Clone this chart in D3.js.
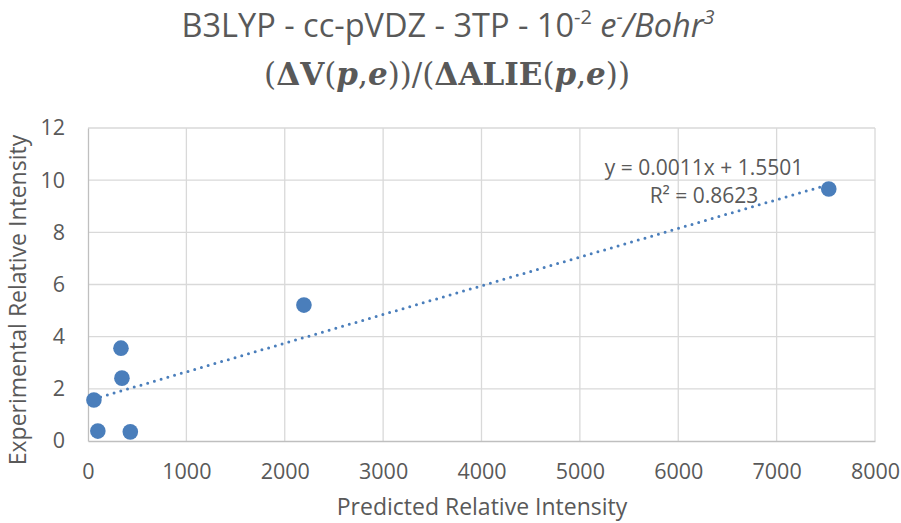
<!DOCTYPE html>
<html>
<head>
<meta charset="utf-8">
<script src="https://cdn.jsdelivr.net/npm/d3@7"></script>
<style>
  body { margin: 0; background: #fff; }
  svg { font-family: "Open Sans", sans-serif; }
</style>
</head>
<body>
<svg id="chart" width="901" height="523"></svg>
<script>
// data
const predicted = [60, 100, 335, 345, 430, 2195, 7530];
const experimental = [1.57, 0.38, 3.56, 2.41, 0.35, 5.21, 9.66];
const xTicks = [0, 1000, 2000, 3000, 4000, 5000, 6000, 7000, 8000];
const yTicks = [0, 2, 4, 6, 8, 10, 12];
const slope = 0.0011, intercept = 1.5501, r2 = "0.8623";

// plot area
let margin = { top: 128, right: 26, bottom: 82, left: 88 };
let width = 901 - margin.left - margin.right;
let height = 523 - margin.top - margin.bottom;

let x = d3.scaleLinear().domain([0, 8000]).range([0, width]);
let y = d3.scaleLinear().domain([0, 12]).range([height, 0]);

let svg = d3.select('#chart');
let g = svg.append('g').attr('transform', `translate(${margin.left}, ${margin.top})`);

const textCol = '#595959';
const blue = '#4a7ebb';

// grid
g.append('g')
  .selectAll('line')
  .data(xTicks.slice(1))
  .join('line')
  .attr('x1', d => x(d)).attr('x2', d => x(d))
  .attr('y1', 0).attr('y2', height)
  .attr('stroke', '#d9d9d9').attr('stroke-width', 1.3);
g.append('g')
  .selectAll('line')
  .data(yTicks.slice(1))
  .join('line')
  .attr('x1', 0).attr('x2', width)
  .attr('y1', d => y(d)).attr('y2', d => y(d))
  .attr('stroke', '#d9d9d9').attr('stroke-width', 1.3);

// axes
let xAxis = g.append('g')
  .attr('transform', `translate(0, ${height})`)
  .call(d3.axisBottom(x).tickValues(xTicks).tickFormat(d3.format('d')).tickSize(0).tickPadding(23));
let yAxis = g.append('g')
  .call(d3.axisLeft(y).tickValues(yTicks).tickFormat(d3.format('d')).tickSize(0).tickPadding(23));
[xAxis, yAxis].forEach(a => {
  a.select('.domain').attr('stroke', '#bfbfbf').attr('stroke-width', 1.3);
  a.selectAll('text').attr('fill', textCol).style('font-size', '21.5px').style('font-family', '"Open Sans", sans-serif');
});

// trendline
let xr = d3.extent(predicted);
g.append('line')
  .attr('x1', x(xr[0])).attr('y1', y(slope * xr[0] + intercept))
  .attr('x2', x(xr[1])).attr('y2', y(slope * xr[1] + intercept))
  .attr('stroke', blue).attr('stroke-width', 3)
  .attr('stroke-dasharray', '0 7').attr('stroke-linecap', 'round');

// points
g.selectAll('circle')
  .data(predicted.map((p, i) => [p, experimental[i]]))
  .join('circle')
  .attr('cx', d => x(d[0])).attr('cy', d => y(d[1]))
  .attr('r', 7.8).attr('fill', blue);

// trendline label
let eq = g.append('text').attr('text-anchor', 'middle').attr('fill', textCol).style('font-size', '21px');
eq.append('tspan').attr('x', 616).attr('y', 47).text(`y = ${slope.toFixed(4)}x + ${intercept.toFixed(4)}`);
eq.append('tspan').attr('x', 616).attr('y', 75).text(`R² = ${r2}`);

// axis titles
svg.append('text')
  .attr('x', 482).attr('y', 515).attr('text-anchor', 'middle')
  .attr('fill', textCol).style('font-size', '23px')
  .text('Predicted Relative Intensity');
svg.append('text')
  .attr('transform', 'translate(26, 300) rotate(-90)').attr('text-anchor', 'middle')
  .attr('fill', textCol).style('font-size', '23px')
  .text('Experimental Relative Intensity');

// chart title
let t1 = svg.append('text')
  .attr('x', 448).attr('y', 37).attr('text-anchor', 'middle')
  .attr('fill', textCol).style('font-size', '32.5px');
t1.append('tspan').text('B3LYP - cc-pVDZ - 3TP - 10');
t1.append('tspan').attr('dy', -13).style('font-size', '20px').text('-2');
t1.append('tspan').attr('dy', 13).text(' ');
t1.append('tspan').style('font-style', 'italic').text('e');
t1.append('tspan').attr('dy', -13).style('font-size', '20px').style('font-style', 'italic').text('-');
t1.append('tspan').attr('dy', 13).style('font-style', 'italic').text('/Bohr');
t1.append('tspan').attr('dy', -13).style('font-size', '20px').style('font-style', 'italic').text('3');

let t2 = svg.append('text')
  .attr('x', 447).attr('y', 85).attr('text-anchor', 'middle')
  .attr('fill', textCol).style('font-size', '31px')
  .style('font-family', '"DejaVu Serif", serif');
const parts = [['(', 'normal', 'normal'], ['ΔV', 'bold', 'normal'], ['(', 'normal', 'normal'],
  ['p', 'bold', 'italic'], [',', 'normal', 'normal'], ['e', 'bold', 'italic'], ['))/(', 'normal', 'normal'],
  ['ΔALIE', 'bold', 'normal'], ['(', 'normal', 'normal'], ['p', 'bold', 'italic'], [',', 'normal', 'normal'],
  ['e', 'bold', 'italic'], ['))', 'normal', 'normal']];
parts.forEach(p => t2.append('tspan').style('font-weight', p[1]).style('font-style', p[2]).text(p[0]));
</script>
</body>
</html>
